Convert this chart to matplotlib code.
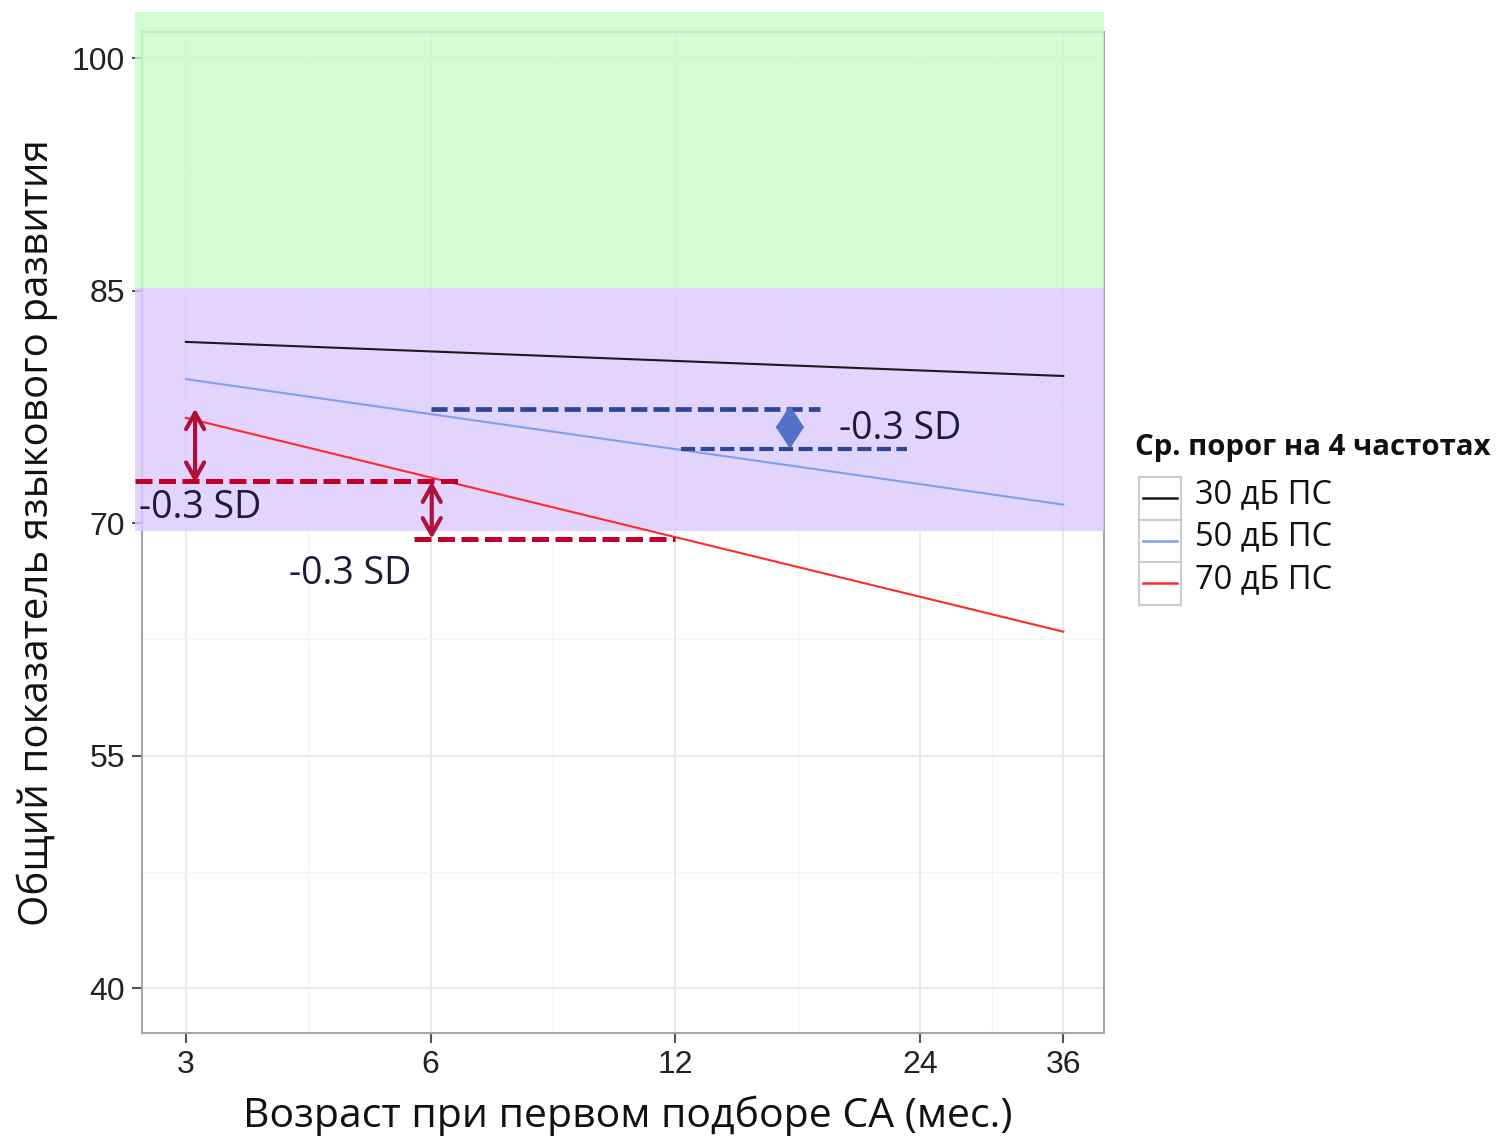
import numpy as np
import matplotlib.pyplot as plt
from matplotlib.patches import Rectangle
from matplotlib.lines import Line2D
from matplotlib.ticker import NullFormatter

# ---- data -------------------------------------------------------------
age_ticks = [3, 6, 12, 24, 36]
age_minor = [4.24, 8.49, 16.97, 29.39]
score_ticks = [40, 55, 70, 85, 100]
score_minor = [47.5, 62.5, 77.5, 92.5]

age_ends = [3, 36]
score_30 = [81.7, 79.5]
score_50 = [79.3, 71.2]
score_70 = [76.8, 63.0]
series_names = ["30 дБ ПС", "50 дБ ПС", "70 дБ ПС"]
series_colors = ["#1a1a1a", "#7f9ef2", "#ff2a2a"]
legend_title = "Ср. порог на 4 частотах"

# normal / borderline zones (lower, upper)
zone_green = (85.2, 103.0)
zone_purple = (69.5, 85.2)
zone_x = (2.60, 40.4)

# -0.3 SD guides: (level, x start, x end)
red_guides = [(72.7, 2.60, 6.6), (69.0, 5.73, 12.0)]
blue_guides = [(77.35, 6.0, 18.1), (74.8, 12.2, 23.1)]
# arrows: (x, top, bottom)
red_arrows = [(3.08, 77.4, 72.6), (6.02, 72.7, 69.0)]
blue_arrows = [(16.6, 77.6, 74.8)]
sd_text = "-0.3 SD"
sd_pos = [(2.63, 71.0), (4.02, 66.7), (19.1, 76.1)]

W, H = 1499, 1136
fig = plt.figure(figsize=(W / 100, H / 100), dpi=100)
ax = fig.add_axes([142 / W, 1 - 1033 / H, (1104 - 142) / W, (1033 - 32) / H])

ax.set_xscale("log")
ax.set_xlim(2.65, 40.4)
ax.set_ylim(37.1, 101.7)

# grid like theme_bw
ax.set_xticks(age_ticks)
ax.set_xticklabels([str(a) for a in age_ticks])
ax.set_xticks(age_minor, minor=True)
ax.xaxis.set_minor_formatter(NullFormatter())
ax.set_yticks(score_ticks)
ax.set_yticklabels([str(s) for s in score_ticks])
ax.set_yticks(score_minor, minor=True)
ax.grid(True, which="major", color="#e8e8e8", lw=1.3, zorder=0)
ax.grid(True, which="minor", color="#f4f4f4", lw=1.0, zorder=0)
ax.set_axisbelow(True)
ax.tick_params(which="minor", length=0)
ax.tick_params(which="major", length=7, width=1.5, color="#555555",
               labelsize=23, labelcolor="#222222", pad=5)
for lab in ax.get_xticklabels() + ax.get_yticklabels():
    lab.set_fontfamily("Liberation Sans")
for sp in ax.spines.values():
    sp.set_color("#a6a6a6")
    sp.set_linewidth(1.5)

# shaded zones, spilling a little past the panel
for (lo, hi), col in [(zone_green, "#c9fcc9"), (zone_purple, "#dbcafc")]:
    ax.add_patch(Rectangle((zone_x[0], lo), zone_x[1] - zone_x[0], hi - lo,
                           facecolor=col, edgecolor="none", alpha=0.8,
                           clip_on=False, zorder=3))

# fitted lines
for ys, col in zip([score_30, score_50, score_70], series_colors):
    ax.plot(age_ends, ys, color=col, lw=1.5, zorder=5)

# dashed guides
for lvl, x0, x1 in red_guides:
    ax.plot([x0, x1], [lvl, lvl], color="#c0002a", lw=3.6, dashes=(3.4, 1.3),
            solid_capstyle="butt", clip_on=False, zorder=6)
for i, (lvl, x0, x1) in enumerate(blue_guides):
    ax.plot([x0, x1], [lvl, lvl], color="#2e4795", lw=3.4 if i == 0 else 3.0,
            dashes=(3.4, 1.3), zorder=6)

for x, top, bot in red_arrows:
    ax.annotate("", xy=(x, top), xytext=(x, bot),
                arrowprops=dict(arrowstyle="<->,head_length=0.45,head_width=0.25",
                                color="#b0103c", lw=3, mutation_scale=26,
                                shrinkA=0, shrinkB=0), zorder=7)
for x, top, bot in blue_arrows:
    ax.annotate("", xy=(x, top), xytext=(x, bot),
                arrowprops=dict(arrowstyle="<|-|>,head_length=0.7,head_width=0.45",
                                color="#5470c8", lw=2, mutation_scale=20,
                                shrinkA=0, shrinkB=0), zorder=7)

for x, y in sd_pos:
    ax.text(x, y, sd_text, fontsize=27, family="Open Sans", color="#1c1c38",
            ha="left", va="center", zorder=8)

ax.set_xlabel("Возраст при первом подборе СА (мес.)", fontsize=29.5,
              family="Open Sans", color="#111111")
ax.xaxis.set_label_coords(0.505, -0.062)
ax.set_ylabel("Общий показатель языкового развития", fontsize=29,
              family="Open Sans", color="#111111", labelpad=10)


# legend drawn by hand in pixel space
def fx(px):
    return px / W


def fy(py):
    return 1 - py / H


fig.text(fx(1135), fy(448), legend_title, fontsize=21.2, fontweight="bold",
         family="Open Sans", ha="left", va="center", color="#111111")
row_top = 477
row_h = 42.5
for i, (name, col) in enumerate(zip(series_names, series_colors)):
    y0 = row_top + i * row_h
    fig.add_artist(Rectangle((fx(1139), fy(y0 + row_h)), 42 / W, row_h / H,
                             transform=fig.transFigure, facecolor="white",
                             edgecolor="#cccccc", lw=1.5))
    yc = y0 + row_h / 2
    fig.add_artist(Line2D([fx(1143), fx(1177)], [fy(yc), fy(yc)],
                          transform=fig.transFigure, color=col, lw=1.8))
    fig.text(fx(1195), fy(yc - 4), name, fontsize=23.5, family="Open Sans",
             ha="left", va="center", color="#111111")

fig.savefig("out.png", dpi=100)
